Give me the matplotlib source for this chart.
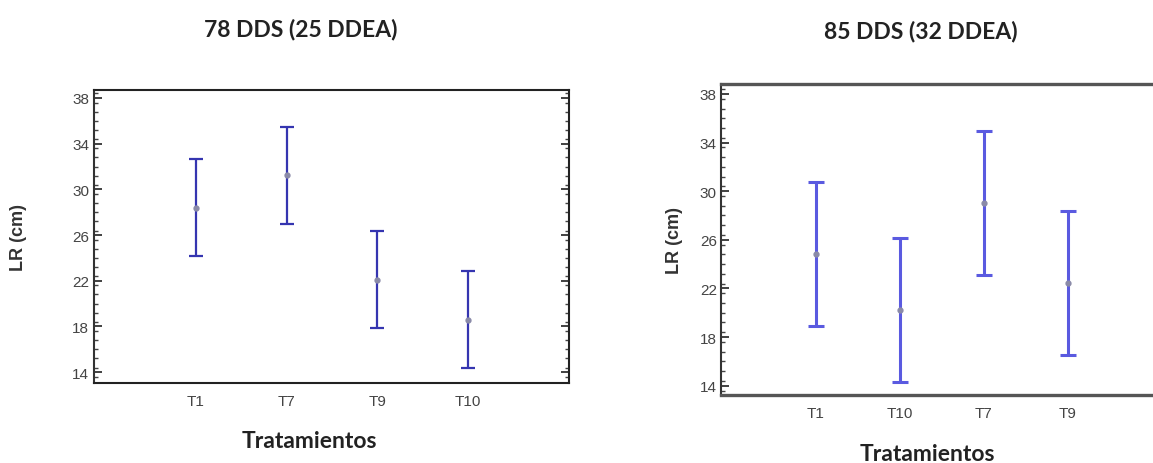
import matplotlib
matplotlib.use("Agg")
import matplotlib.pyplot as plt
from matplotlib.ticker import MultipleLocator

# 78 DDS (25 DDEA): treatment means with interval half-widths
trt_a = ["T1", "T7", "T9", "T10"]
mean_a = [28.4, 31.25, 22.1, 18.6]
half_a = [4.25, 4.25, 4.25, 4.25]

# 85 DDS (32 DDEA)
trt_b = ["T1", "T10", "T7", "T9"]
mean_b = [24.8, 20.25, 29.0, 22.45]
half_b = [5.93, 5.93, 5.93, 5.93]

yticks = [14, 18, 22, 26, 30, 34, 38]

W, H = 1153, 464
fig = plt.figure(figsize=(W / 100, H / 100), dpi=100)

title_font = dict(family=["Lato", "DejaVu Sans"], weight="bold", size=16.5, color="#222222")
label_font = dict(family=["Liberation Sans", "DejaVu Sans"], weight="bold", size=13, color="#333333")


def panel(rect, cats, means, halves, ylim, color, lw, capsize, spine_color, spine_lw, left_lw):
    ax = fig.add_axes(rect)
    x = list(range(1, len(cats) + 1))
    ax.errorbar(x, means, yerr=halves, fmt="o", color=color, ecolor=color,
                elinewidth=lw, capsize=capsize, capthick=lw,
                markersize=3.5, markerfacecolor="#8a8aa8", markeredgecolor="#8a8aa8")
    ax.set_xlim(-0.13, 5.11)
    ax.set_ylim(*ylim)
    ax.set_xticks(x)
    ax.set_xticklabels(cats)
    ax.set_yticks(yticks)
    ax.yaxis.set_minor_locator(MultipleLocator(0.8))
    ax.tick_params(axis="x", length=0, pad=8, labelsize=11, labelcolor="#444444")
    ax.tick_params(axis="y", which="major", direction="in", length=6, width=1.3,
                   right=True, labelsize=11, labelcolor="#444444", color="#333333", pad=3)
    ax.tick_params(axis="y", which="minor", direction="in", length=3, width=1.0,
                   right=True, color="#444444")
    for lab in ax.get_xticklabels() + ax.get_yticklabels():
        lab.set_family(["Liberation Sans", "DejaVu Sans"])
    for s in ax.spines.values():
        s.set_color(spine_color)
        s.set_linewidth(spine_lw)
    ax.spines["left"].set_linewidth(left_lw)
    ax.spines["left"].set_color("#333333")
    ax.set_ylabel("LR (cm)", **label_font)
    return ax


ax1 = panel([93.5 / W, 1 - 384 / H, 475 / W, 293 / H], trt_a, mean_a, half_a,
            (13.05, 38.7), "#3535b0", 1.6, 5, "#222222", 1.5, 1.5)
ax2 = panel([721 / W, 1 - 396 / H, 440 / W, 311 / H], trt_b, mean_b, half_b,
            (13.23, 38.82), "#5a5ae0", 2.2, 6, "#555555", 2.4, 1.5)

ax1.yaxis.set_label_coords((27 - 93.5) / 475, 0.5)
ax2.yaxis.set_label_coords((683 - 721) / 440, 0.5)

fig.text(301 / W, 1 - 29 / H, "78 DDS (25 DDEA)", ha="center", va="center", **title_font)
fig.text(921 / W, 1 - 31 / H, "85 DDS (32 DDEA)", ha="center", va="center", **title_font)
fig.text(309 / W, 1 - 441 / H, "Tratamientos", ha="center", va="center", **title_font)
fig.text(927 / W, 1 - 455 / H, "Tratamientos", ha="center", va="center", **title_font)

fig.savefig("out.png", dpi=100)
